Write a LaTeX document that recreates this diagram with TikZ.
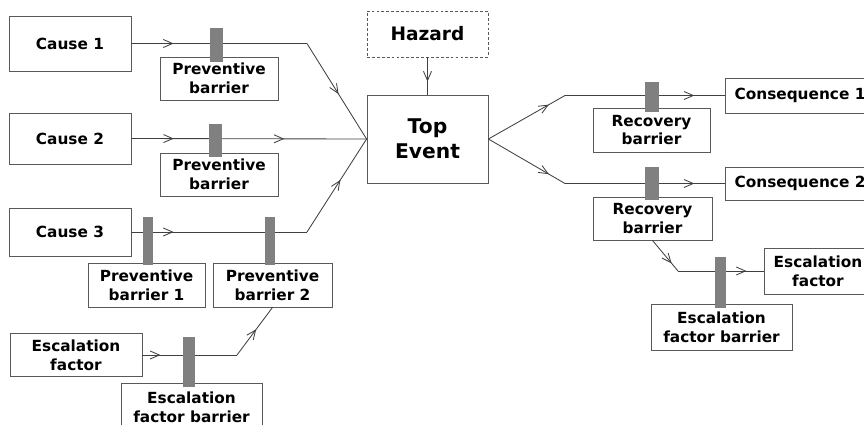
\documentclass[tikz,border=0pt]{standalone}
\usepackage{fontspec}
\setmainfont{DejaVu Sans}
\usetikzlibrary{arrows.meta,decorations.markings}
\begin{document}
\begin{tikzpicture}[x=0.025cm, y=-0.025cm,
    sz/.style 2 args={minimum width=#1*0.025cm, minimum height=#2*0.025cm},
    box/.style={draw=black!65, line width=.6pt, inner sep=0pt, align=center,
                font=\bfseries\fontsize{10.9}{13.2}\selectfont},
    bar/.style={fill=black!50, inner sep=0pt},
    flow/.style={draw=black!75, line width=.6pt},
    arr/.style={postaction={decorate, decoration={markings,
                mark=at position #1 with {\arrow{Straight Barb[length=2.3mm,width=2mm]}}}}}]
  \useasboundingbox (0,0) rectangle (864,424);
  \clip (0,0) rectangle (864,424);
  % causes side
  \node[box, sz={122}{55}] (cause1) at (70,43.5) {Cause 1};
  \node[box, sz={122}{51}] (cause2) at (70,138.5) {Cause 2};
  \node[box, sz={122}{48}] (cause3) at (70,232) {Cause 3};
  \node[box, sz={132}{43}] (esc1) at (76,355) {Escalation\\factor};
  \node[box, sz={118}{43}] (pbar1) at (219,78.5) {Preventive\\barrier};
  \node[box, sz={118}{43}] (pbar2) at (219,174.5) {Preventive\\barrier};
  \node[box, sz={117}{44}] (pbar31) at (146.5,285) {Preventive\\barrier 1};
  \node[box, sz={119}{44}] (pbar32) at (272.5,285) {Preventive\\barrier 2};
  \node[box, sz={141}{48}] (escbar1) at (191.5,407) {Escalation\\factor barrier};
  % centre
  \node[box, dash pattern=on 2pt off 1.5pt, sz={121}{46},
        font=\bfseries\fontsize{13.2}{16}\selectfont] (hazard) at (427.5,34) {Hazard};
  \node[box, sz={121}{88},
        font=\bfseries\fontsize{14.4}{17.8}\selectfont] (top) at (427.5,139) {Top\\Event};
  % consequences side
  \node[box, sz={117}{44}] (rbar1) at (651.5,130) {Recovery\\barrier};
  \node[box, sz={119}{43}] (rbar2) at (652.5,218.5) {Recovery\\barrier};
  \node[box, sz={150}{35}] (cons1) at (800,95.5) {Consequence 1};
  \node[box, sz={150}{33}] (cons2) at (800,183.5) {Consequence 2};
  \node[box, sz={108}{46}] (esc2) at (818,271) {Escalation\\factor};
  \node[box, sz={141}{46}] (escbar2) at (721.5,327) {Escalation\\factor barrier};

  \coordinate (k1) at (307,43.5);
  \coordinate (k3) at (307,232);
  \coordinate (k4) at (237,355);
  \coordinate (k5) at (565,95.5);
  \coordinate (k6) at (565,183.5);
  \coordinate (k7) at (678,271);

  \draw[flow, arr=.24] (cause1.east) -- (k1);
  \draw[flow, arr=.53] (k1) -- (top.west);
  \draw[flow, arr=.18, arr=.65] (cause2.east) -- (top.west);
  \draw[flow, arr=.24] (cause3.east) -- (k3);
  \draw[flow, arr=.56] (k3) -- (top.west);
  \draw[flow, arr=.19] (esc1.east) -- (k4);
  \draw[flow, arr=.54] (k4) -- (pbar32.south);
  \draw[flow, arr=.65] (hazard.south) -- (top.north);
  \draw[flow, arr=.79] (top.east) -- (k5);
  \draw[flow, arr=.81] (k5) -- (cons1.west);
  \draw[flow, arr=.79] (top.east) -- (k6);
  \draw[flow, arr=.81] (k6) -- (cons2.west);
  \draw[flow, arr=.75] (rbar2.south) -- (k7);
  \draw[flow, arr=.8] (k7) -- (esc2.west);

  % barriers
  \node[bar, sz={13}{34}] (barA) at (216.5,45) {};
  \node[bar, sz={13}{33}] (barB) at (215,140.5) {};
  \node[bar, sz={10}{48}] (barC) at (148,241) {};
  \node[bar, sz={10}{48}] (barD) at (270,241) {};
  \node[bar, sz={12}{50}] (barE) at (189,362) {};
  \node[bar, sz={14}{30}] (barF) at (652,97) {};
  \node[bar, sz={14}{33}] (barG) at (652,183.5) {};
  \node[bar, sz={11}{51}] (barH) at (720.5,282.5) {};
\end{tikzpicture}
\end{document}
